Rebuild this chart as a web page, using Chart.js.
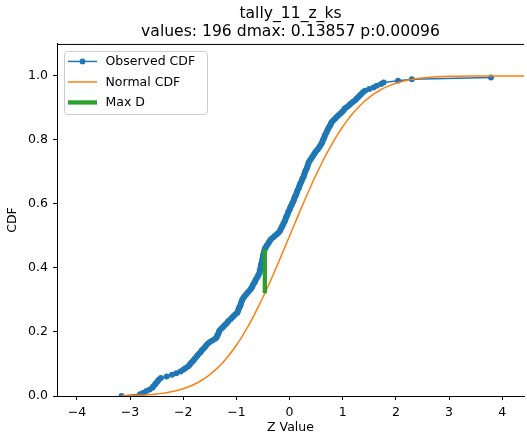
<!DOCTYPE html>
<html>
<head>
<meta charset="utf-8">
<script src="https://cdn.jsdelivr.net/npm/chart.js@4.4.1/dist/chart.umd.min.js"></script>
<style>
  html, body { margin: 0; padding: 0; background: #fff; }
  #wrap { width: 527px; height: 435px; }
</style>
</head>
<body>
<div id="wrap"><canvas id="ksChart" width="527" height="435"></canvas></div>
<script>
var titleLines = ['tally_11_z_ks', 'values: 196 dmax: 0.13857 p:0.00096'];
var seriesNames = ['Observed CDF', 'Normal CDF', 'Max D'];

// sorted z values (196)
var observedZ = [
  -3.16, -2.81, -2.75, -2.69, -2.63, -2.58, -2.56, -2.53, -2.51, -2.48,
  -2.46, -2.42, -2.31, -2.21, -2.13, -2.05, -2.00, -1.96, -1.91, -1.88,
  -1.86, -1.83, -1.80, -1.78, -1.75, -1.73, -1.70, -1.67, -1.65, -1.62,
  -1.59, -1.57, -1.54, -1.50, -1.45, -1.40, -1.37, -1.36, -1.34, -1.33,
  -1.32, -1.29, -1.26, -1.23, -1.20, -1.17, -1.15, -1.11, -1.08, -1.05,
  -1.02, -0.98, -0.97, -0.96, -0.95, -0.93, -0.92, -0.91, -0.90, -0.89,
  -0.87, -0.85, -0.82, -0.80, -0.77, -0.74, -0.72, -0.70, -0.69, -0.67,
  -0.65, -0.64, -0.62, -0.60, -0.59, -0.57, -0.56, -0.56, -0.55, -0.54,
  -0.54, -0.53, -0.52, -0.51, -0.51, -0.50, -0.50, -0.49, -0.48, -0.475,
  -0.465, -0.45, -0.43, -0.41, -0.39, -0.37, -0.35, -0.31, -0.28, -0.24,
  -0.21, -0.18, -0.17, -0.15, -0.14, -0.12, -0.11, -0.09, -0.08, -0.07,
  -0.06, -0.04, -0.03, -0.02, 0.00, 0.01, 0.02, 0.04, 0.05, 0.07,
  0.08, 0.09, 0.10, 0.12, 0.13, 0.14, 0.15, 0.17, 0.18, 0.19,
  0.20, 0.22, 0.23, 0.24, 0.26, 0.27, 0.28, 0.29, 0.30, 0.32,
  0.33, 0.34, 0.35, 0.36, 0.38, 0.40, 0.42, 0.44, 0.46, 0.48,
  0.50, 0.53, 0.55, 0.57, 0.59, 0.61, 0.62, 0.63, 0.65, 0.66,
  0.67, 0.69, 0.70, 0.72, 0.73, 0.75, 0.77, 0.78, 0.80, 0.83,
  0.86, 0.89, 0.92, 0.96, 0.99, 1.02, 1.04, 1.08, 1.12, 1.15,
  1.19, 1.23, 1.26, 1.29, 1.32, 1.35, 1.38, 1.42, 1.50, 1.58,
  1.64, 1.72, 1.77, 2.04, 2.30, 3.79
];

// normal curve
var normalZ = [
  -3.16, -3.1, -3.0, -2.9, -2.8, -2.7, -2.6, -2.5, -2.4, -2.3, -2.2, -2.1,
  -2.0, -1.9, -1.8, -1.7, -1.6, -1.5, -1.4, -1.3, -1.2, -1.1, -1.0, -0.9,
  -0.8, -0.7, -0.6, -0.5, -0.4, -0.3, -0.2, -0.1, 0.0, 0.1, 0.2, 0.3,
  0.4, 0.5, 0.6, 0.7, 0.8, 0.9, 1.0, 1.1, 1.2, 1.3, 1.4, 1.5,
  1.6, 1.7, 1.8, 1.9, 2.0, 2.1, 2.2, 2.3, 2.4, 2.5, 2.6, 2.7,
  2.8, 2.9, 3.0, 3.2, 3.4, 3.6, 3.8, 4.0, 4.6
];
var normalCdf = [
  0.0008, 0.0010, 0.0013, 0.0019, 0.0026, 0.0035, 0.0047, 0.0062, 0.0082, 0.0107, 0.0139, 0.0179,
  0.0228, 0.0287, 0.0359, 0.0446, 0.0548, 0.0668, 0.0808, 0.0968, 0.1151, 0.1357, 0.1587, 0.1841,
  0.2119, 0.2420, 0.2743, 0.3085, 0.3446, 0.3821, 0.4207, 0.4602, 0.5000, 0.5398, 0.5793, 0.6179,
  0.6554, 0.6915, 0.7257, 0.7580, 0.7881, 0.8159, 0.8413, 0.8643, 0.8849, 0.9032, 0.9192, 0.9332,
  0.9452, 0.9554, 0.9641, 0.9713, 0.9772, 0.9821, 0.9861, 0.9893, 0.9918, 0.9938, 0.9953, 0.9965,
  0.9974, 0.9981, 0.9987, 0.9993, 0.9997, 0.9998, 0.9999, 1.0000, 1.0000
];

var maxDz = -0.465;
var maxDLow = 0.321;
var maxDHigh = 0.459;

var xTicks = [-4, -3, -2, -1, 0, 1, 2, 3, 4];
var yTicks = [0, 0.2, 0.4, 0.6, 0.8, 1.0];

var colors = ['#1f77b4', '#ff7f0e', '#2ca02c'];

// ecdf points: rank / n
var observedPts = [];
for (var i = 0; i < observedZ.length; i++) {
  observedPts.push({x: observedZ[i], y: i / observedZ.length});
}
var normalPts = [];
for (var j = 0; j < normalZ.length; j++) {
  normalPts.push({x: normalZ[j], y: normalCdf[j]});
}
var maxDPts = [{x: maxDz, y: maxDLow}, {x: maxDz, y: maxDHigh}];

Chart.defaults.font.family = 'DejaVu Sans';
Chart.defaults.font.size = 12.5;
Chart.defaults.color = '#000';

// top spine + legend box like matplotlib
var frameAndLegend = {
  id: 'frameAndLegend',
  afterDraw: function(chart) {
    var ctx = chart.ctx, a = chart.chartArea;
    ctx.save();
    ctx.strokeStyle = '#000';
    ctx.lineWidth = 1;
    ctx.beginPath();
    ctx.moveTo(a.left, a.top + 0.5);
    ctx.lineTo(a.right, a.top + 0.5);
    ctx.stroke();

    var bx = a.left + 7.5, by = a.top + 7.5, bw = 143, bh = 63, r = 3;
    ctx.beginPath();
    ctx.moveTo(bx + r, by);
    ctx.lineTo(bx + bw - r, by);
    ctx.quadraticCurveTo(bx + bw, by, bx + bw, by + r);
    ctx.lineTo(bx + bw, by + bh - r);
    ctx.quadraticCurveTo(bx + bw, by + bh, bx + bw - r, by + bh);
    ctx.lineTo(bx + r, by + bh);
    ctx.quadraticCurveTo(bx, by + bh, bx, by + bh - r);
    ctx.lineTo(bx, by + r);
    ctx.quadraticCurveTo(bx, by, bx + r, by);
    ctx.closePath();
    ctx.fillStyle = 'rgba(255,255,255,0.8)';
    ctx.fill();
    ctx.strokeStyle = '#cccccc';
    ctx.stroke();

    var widths = [1.5, 1.5, 4.3];
    ctx.font = '12.5px "DejaVu Sans"';
    ctx.textBaseline = 'middle';
    for (var k = 0; k < seriesNames.length; k++) {
      var ly = by + 10 + k * 20.5;
      ctx.strokeStyle = colors[k];
      ctx.lineWidth = widths[k];
      ctx.beginPath();
      ctx.moveTo(bx + 3.5, ly);
      ctx.lineTo(bx + 32.5, ly);
      ctx.stroke();
      if (k === 0) {
        ctx.fillStyle = colors[0];
        ctx.beginPath();
        ctx.arc(bx + 18, ly, 2.9, 0, Math.PI * 2);
        ctx.fill();
      }
      ctx.fillStyle = '#000';
      ctx.fillText(seriesNames[k], bx + 41, ly + 0.5);
    }
    ctx.restore();
  }
};

function minusFmt(v) {
  return v < 0 ? '\u2212' + Math.abs(v) : String(v);
}

new Chart(document.getElementById('ksChart'), {
  type: 'scatter',
  data: {
    datasets: [
      {
        label: seriesNames[0],
        data: observedPts,
        showLine: true,
        borderColor: colors[0],
        backgroundColor: colors[0],
        borderWidth: 1.5,
        pointRadius: 3,
        pointBorderWidth: 0,
        pointHoverRadius: 3,
        order: 3
      },
      {
        label: seriesNames[1],
        data: normalPts,
        showLine: true,
        borderColor: colors[1],
        backgroundColor: colors[1],
        borderWidth: 1.5,
        pointRadius: 0,
        cubicInterpolationMode: 'monotone',
        order: 2
      },
      {
        label: seriesNames[2],
        data: maxDPts,
        showLine: true,
        borderColor: colors[2],
        backgroundColor: colors[2],
        borderWidth: 4.3,
        borderCapStyle: 'butt',
        pointRadius: 0,
        order: 1
      }
    ]
  },
  options: {
    responsive: false,
    animation: false,
    devicePixelRatio: 1,
    layout: { padding: 0 },
    plugins: {
      legend: { display: false },
      tooltip: { enabled: false },
      title: {
        display: true,
        fullSize: false,
        text: titleLines,
        color: '#000',
        font: { size: 15.6, weight: 'normal', lineHeight: 1.12 },
        padding: { top: 5.25, bottom: 3.75 }
      }
    },
    scales: {
      x: {
        type: 'linear',
        min: -4.374,
        max: 4.41,
        afterBuildTicks: function(s) { s.ticks = xTicks.map(function(v) { return {value: v}; }); },
        afterFit: function(s) { s.height = 39; },
        ticks: { callback: minusFmt, padding: 5, maxRotation: 0, autoSkip: false },
        grid: { drawOnChartArea: false, tickLength: 4, tickColor: '#000', color: '#000' },
        border: { color: '#000', width: 1 },
        title: { display: true, text: 'Z Value', padding: { top: 0, bottom: 0 } }
      },
      y: {
        type: 'linear',
        min: 0,
        max: 1.1,
        afterBuildTicks: function(s) { s.ticks = yTicks.map(function(v) { return {value: v}; }); },
        afterFit: function(s) { s.width = 57; },
        ticks: { callback: function(v) { return v.toFixed(1); }, padding: 5 },
        grid: { drawOnChartArea: false, tickLength: 4, tickColor: '#000', color: '#000' },
        border: { color: '#000', width: 1 },
        title: { display: true, text: 'CDF', padding: { top: 5, bottom: 0 } }
      }
    }
  },
  plugins: [frameAndLegend]
});
</script>
</body>
</html>
